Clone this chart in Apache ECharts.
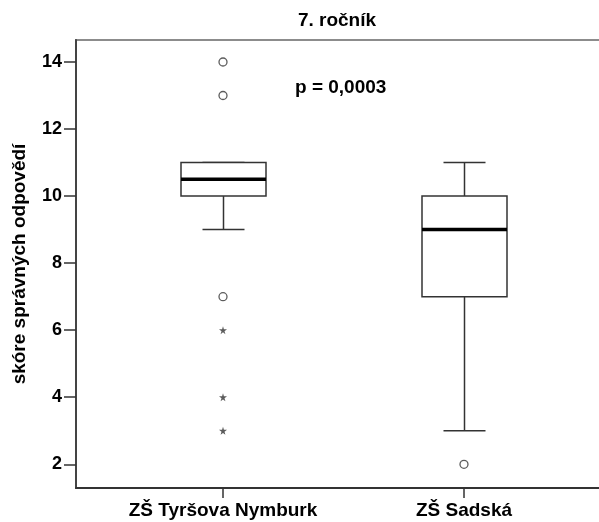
<!DOCTYPE html>
<html>
<head>
<meta charset="utf-8">
<script src="https://cdn.jsdelivr.net/npm/echarts@6/dist/echarts.min.js"></script>
<style>
html, body { margin: 0; padding: 0; background: #fff; }
#chart { width: 599px; height: 522px; }
</style>
</head>
<body>
<div id="chart"></div>
<script>
// skupiny (osa x) a jejich pozice
const categories = ['ZŠ Tyršova Nymburk', 'ZŠ Sadská'];
const groupPos = [1, 2];
// [pozice, dolní vous, Q1, medián, Q3, horní vous]
const boxes = [
    [1, 9, 10, 10.5, 11, 11],
    [2, 3, 7, 9, 10, 11]
];
// odlehlé hodnoty (kroužek) a extrémy (hvězdička)
const outliers = [[1, 14], [1, 13], [1, 7], [2, 2]];
const extremes = [[1, 6], [1, 4], [1, 3]];
const yTicks = [2, 4, 6, 8, 10, 12, 14];
const pText = 'p = 0,0003';

const font = 'Liberation Sans, Arial, sans-serif';
const chart = echarts.init(document.getElementById('chart'));

function renderBox(params, api) {
    const x = api.value(0);
    const lo = api.coord([x, api.value(1)]);
    const q1 = api.coord([x, api.value(2)]);
    const med = api.coord([x, api.value(3)]);
    const q3 = api.coord([x, api.value(4)]);
    const hi = api.coord([x, api.value(5)]);
    const cx = Math.round(q1[0]) + 0.5;
    const half = 42.5;
    const cap = 21;
    const line = (x1, y1, x2, y2, w, c) => ({
        type: 'line',
        shape: { x1: x1, y1: y1, x2: x2, y2: y2 },
        style: { stroke: c || '#333', lineWidth: w || 1.5 }
    });
    return {
        type: 'group',
        children: [
            line(cx, q3[1], cx, hi[1]),
            line(cx, q1[1], cx, lo[1]),
            line(cx - cap, hi[1], cx + cap, hi[1]),
            line(cx - cap, lo[1], cx + cap, lo[1]),
            {
                type: 'rect',
                shape: { x: cx - half, y: q3[1], width: half * 2, height: q1[1] - q3[1] },
                style: { fill: '#fff', stroke: '#333', lineWidth: 1.5 }
            },
            line(cx - half, med[1], cx + half, med[1], 3.5, '#000')
        ]
    };
}

const option = {
    animation: false,
    grid: {
        left: 76,
        right: -5,
        top: 40,
        bottom: 34,
        outerBoundsMode: 'none',
        containLabel: false,
        show: true,
        borderColor: '#8c8c8c',
        borderWidth: 2
    },
    xAxis: {
        type: 'value',
        min: 0.39,
        max: 2.581,
        splitLine: { show: false },
        axisLine: { show: true, lineStyle: { color: '#333', width: 2 } },
        axisTick: { show: true, customValues: groupPos, length: 10, lineStyle: { color: '#333', width: 1.5 } },
        axisLabel: {
            customValues: groupPos,
            formatter: (v) => categories[Math.round(v) - 1],
            margin: 13,
            fontFamily: font,
            fontSize: 19,
            fontWeight: 'bold',
            color: '#000'
        }
    },
    yAxis: {
        type: 'value',
        min: 1.293,
        max: 14.656,
        name: 'skóre správných odpovědí',
        nameLocation: 'middle',
        nameGap: 47,
        nameTextStyle: { fontFamily: font, fontSize: 19, fontWeight: 'bold', color: '#000' },
        splitLine: { show: false },
        axisLine: { show: true, lineStyle: { color: '#444', width: 2 } },
        axisTick: { show: true, customValues: yTicks, length: 12, lineStyle: { color: '#333', width: 1.5 } },
        axisLabel: {
            customValues: yTicks,
            margin: 14,
            fontFamily: font,
            fontSize: 18,
            fontWeight: 'bold',
            color: '#000'
        }
    },
    graphic: [
        {
            type: 'text',
            x: 337,
            y: 11,
            style: { text: '7. ročník', font: 'bold 19px ' + font, fill: '#000', align: 'center' }
        },
        {
            type: 'text',
            x: 295,
            y: 78,
            style: { text: pText, font: 'bold 19px ' + font, fill: '#000' }
        }
    ],
    series: [
        {
            type: 'custom',
            renderItem: renderBox,
            data: boxes,
            encode: { x: 0, y: [1, 2, 3, 4, 5] },
            z: 3
        },
        {
            type: 'scatter',
            data: outliers,
            symbol: 'circle',
            symbolSize: 8,
            itemStyle: { color: '#fff', borderColor: '#333', borderWidth: 1.3 },
            z: 4
        },
        {
            type: 'scatter',
            data: extremes,
            symbol: 'path://M50,0 L61,35 L98,35 L68,57 L79,91 L50,70 L21,91 L32,57 L2,35 L39,35 Z',
            symbolSize: 8,
            itemStyle: { color: '#333' },
            z: 4
        }
    ]
};
chart.setOption(option);
</script>
</body>
</html>
